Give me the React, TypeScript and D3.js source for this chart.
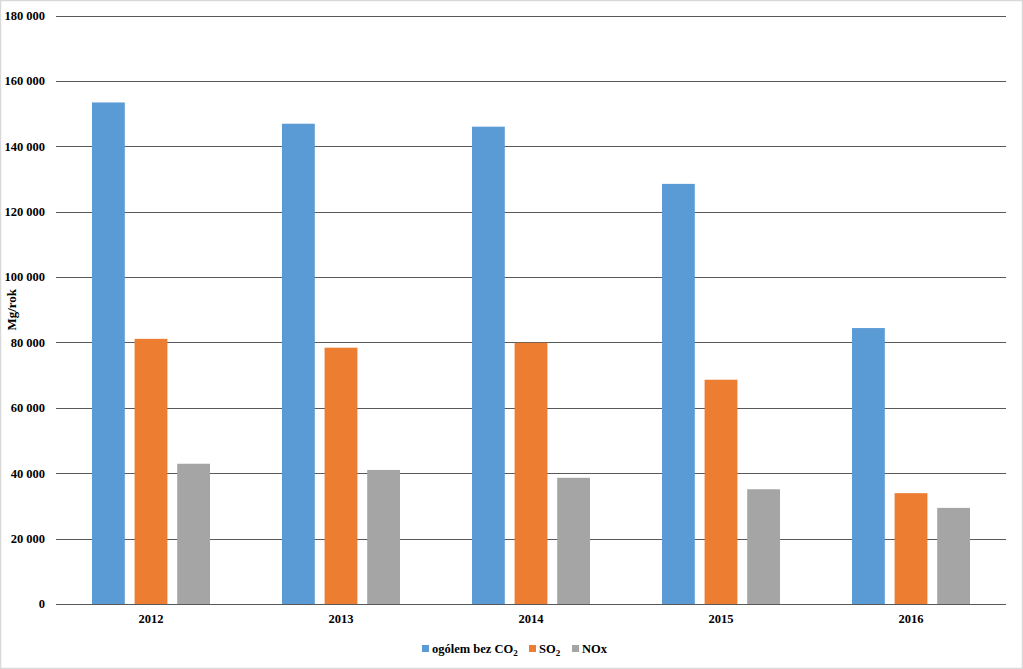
import React from "react";
import * as d3 from "d3";

const years = ["2012", "2013", "2014", "2015", "2016"];
const seriesNames = ["ogólem bez CO2", "SO2", "NOx"];
const ogolem = [153400, 146900, 146000, 128500, 84400];
const so2 = [81100, 78400, 79900, 68600, 33900];
const nox = [42900, 41000, 38600, 35100, 29400];
const yTicks = [0, 20000, 40000, 60000, 80000, 100000, 120000, 140000, 160000, 180000];
const colors = ["#5B9BD5", "#ED7D31", "#A5A5A5"];

const W = 1023, H = 669;
const m = { left: 56, right: 1006, top: 15.5, bottom: 604 };

export default function App() {
  const series = [ogolem, so2, nox];
  const x0 = d3.scaleBand().domain(years).range([m.left, m.right]).paddingInner(0).paddingOuter(0);
  const inner = d3.scaleBand().domain(seriesNames).range([36, x0.bandwidth() - 36]).paddingInner(0.23).paddingOuter(0);
  const y = d3.scaleLinear().domain([0, 180000]).range([m.bottom, m.top]);
  const fmt = (v: number) => d3.format(",")(v).replace(/,/g, " ");
  const font = "'Liberation Serif', 'Times New Roman', serif";
  return (
    <svg width={W} height={H} style={{ position: "absolute", left: 0, top: 0, background: "#fff" }} fontFamily={font}>
      <rect x={0.5} y={0.5} width={W - 1} height={H - 1} fill="#fff" stroke="#d9d9d9" strokeWidth={1.5} />
      {yTicks.map((t) => (
        <g key={t}>
          <line x1={m.left} x2={m.right} y1={Math.round(y(t)) + 0.5} y2={Math.round(y(t)) + 0.5} stroke="#595959" strokeWidth={1} />
          <text x={45} y={y(t)} dy="0.35em" textAnchor="end" fontSize={12.5} fontWeight="bold" fill="#000">{fmt(t)}</text>
        </g>
      ))}
      {years.map((yr, i) => (
        <g key={yr}>
          {series.map((s, j) => (
            <rect key={j} x={(x0(yr) as number) + (inner(seriesNames[j]) as number)} y={y(s[i])}
              width={inner.bandwidth()} height={y(0) - y(s[i])} fill={colors[j]} />
          ))}
          <text x={(x0(yr) as number) + x0.bandwidth() / 2} y={623} textAnchor="middle" fontSize={12.5} fontWeight="bold">{yr}</text>
        </g>
      ))}
      <line x1={m.left} x2={m.right} y1={Math.round(y(0)) + 0.5} y2={Math.round(y(0)) + 0.5} stroke="#595959" strokeWidth={1} />
      <text transform={`translate(16,${(m.top + m.bottom) / 2}) rotate(-90)`} textAnchor="middle" fontSize={13} fontWeight="bold">Mg/rok</text>
      <g fontSize={12.5} fontWeight="bold">
        <rect x={422} y={645} width={7} height={7} fill={colors[0]} />
        <text x={432} y={653}>ogólem bez CO<tspan fontSize={9} dy={3}>2</tspan></text>
        <rect x={529} y={645} width={7} height={7} fill={colors[1]} />
        <text x={539} y={653}>SO<tspan fontSize={9} dy={3}>2</tspan></text>
        <rect x={572} y={645} width={7} height={7} fill={colors[2]} />
        <text x={582} y={653}>NOx</text>
      </g>
    </svg>
  );
}
